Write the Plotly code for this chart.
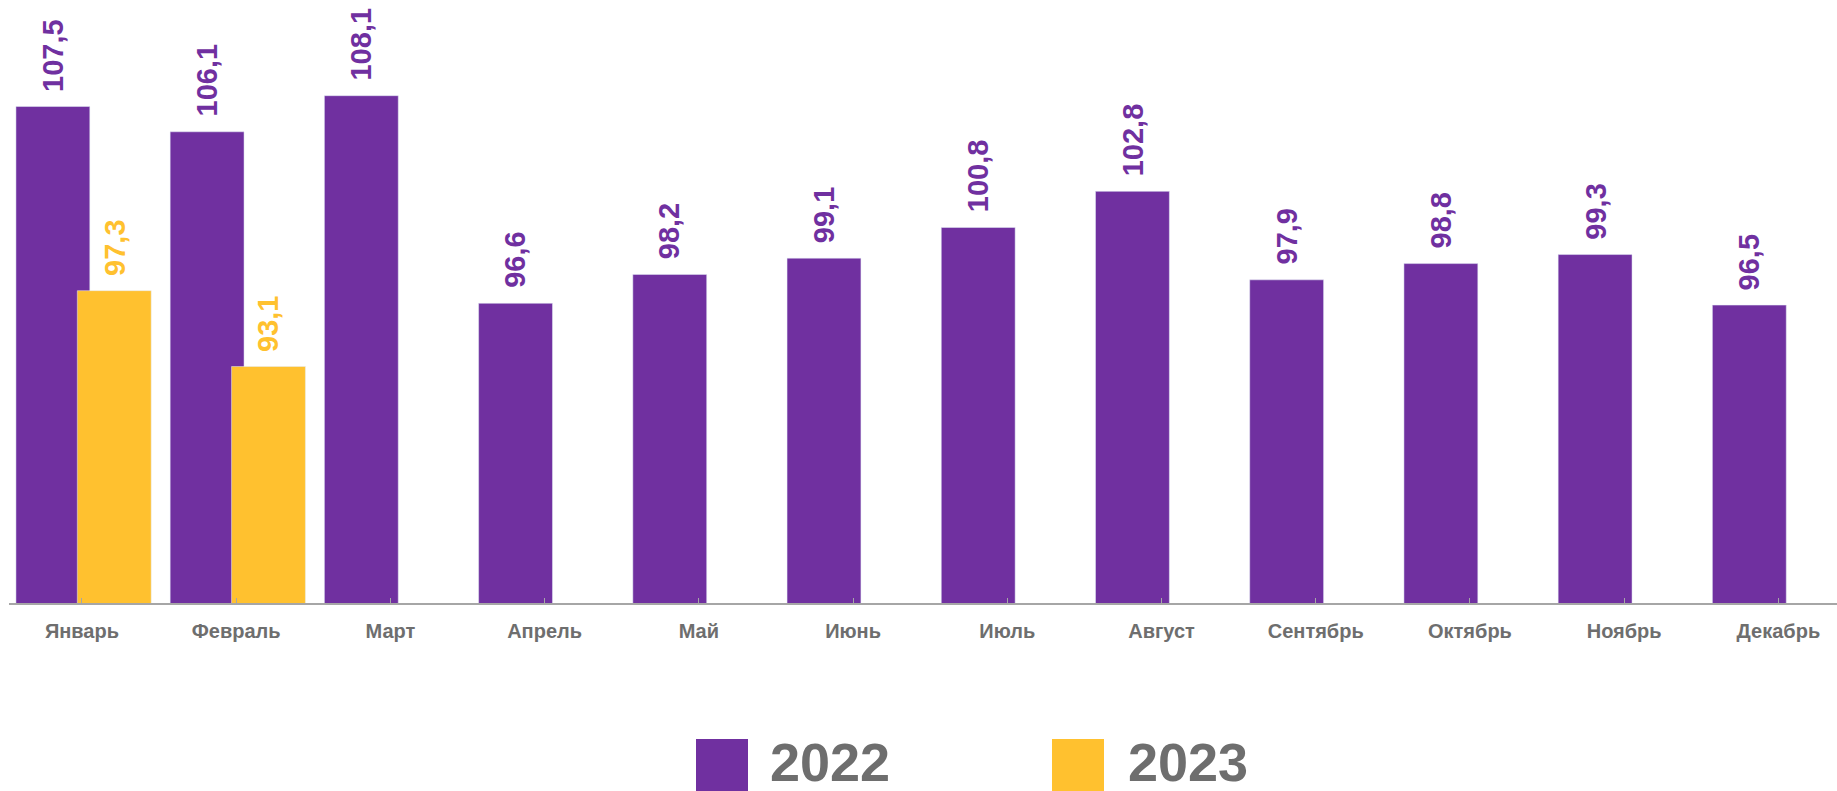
import plotly.graph_objects as go

months = ["Январь", "Февраль", "Март", "Апрель", "Май", "Июнь", "Июль",
          "Август", "Сентябрь", "Октябрь", "Ноябрь", "Декабрь"]
values_2022 = [107.5, 106.1, 108.1, 96.6, 98.2, 99.1, 100.8, 102.8, 97.9, 98.8, 99.3, 96.5]
values_2023 = [97.3, 93.1]
series_names = ["2022", "2023"]

PURPLE = "#7030A0"
YELLOW = "#FFC12F"
GREY = "#6E6E6E"
FONT = "Liberation Sans, Arial, sans-serif"

BAR_W = 0.479
OFF_22 = -0.428
OFF_23 = -0.030

x22 = list(range(len(values_2022)))
x23 = list(range(len(values_2023)))

fig = go.Figure()
fig.add_trace(go.Bar(x=x22, y=values_2022, name=series_names[0], marker_color=PURPLE,
                     width=BAR_W, offset=OFF_22, showlegend=False))
fig.add_trace(go.Bar(x=x23, y=values_2023, name=series_names[1], marker_color=YELLOW,
                     width=BAR_W, offset=OFF_23, showlegend=False))


def fmt(v):
    return f"{v:.1f}".replace(".", ",")


annotations = []
for xi, v in zip(x22, values_2022):
    annotations.append(dict(x=xi + OFF_22 + BAR_W / 2, y=v, xref="x", yref="y",
                            text=f"<b>{fmt(v)}</b>", showarrow=False, textangle=-90,
                            xanchor="center", yanchor="bottom", yshift=13,
                            font=dict(family=FONT, size=29, color=PURPLE)))
for xi, v in zip(x23, values_2023):
    annotations.append(dict(x=xi + OFF_23 + BAR_W / 2, y=v, xref="x", yref="y",
                            text=f"<b>{fmt(v)}</b>", showarrow=False, textangle=-90,
                            xanchor="center", yanchor="bottom", yshift=13,
                            font=dict(family=FONT, size=29, color=YELLOW)))

# manual legend
legend_items = [(series_names[0], PURPLE, 696, 768), (series_names[1], YELLOW, 1052, 1126)]
shapes = []
W, H = 1837, 791
for name, col, sx, tx in legend_items:
    shapes.append(dict(type="rect", xref="paper", yref="paper",
                       x0=(sx - 9) / (W - 9), x1=(sx + 52 - 9) / (W - 9),
                       y0=-(739 - 603) / 603, y1=-(800 - 603) / 603,
                       fillcolor=col, line=dict(width=0)))
    annotations.append(dict(x=(tx - 9) / (W - 9), y=-(762 - 603) / 603, xref="paper", yref="paper",
                            text=f"<b>{name}</b>", showarrow=False, xanchor="left", yanchor="middle",
                            font=dict(family=FONT, size=54, color=GREY)))

fig.update_layout(
    width=W, height=H,
    margin=dict(l=9, r=0, t=0, b=188),
    plot_bgcolor="white", paper_bgcolor="white",
    barmode="overlay",
    annotations=annotations,
    shapes=shapes,
    showlegend=False,
    xaxis=dict(range=[-0.473, 11.38], tickmode="array", tickvals=x22, ticktext=[f"<b>{m}</b>" for m in months],
               showgrid=False, zeroline=False, showline=True, linecolor="#A6A6A6", linewidth=1.5,
               ticks="inside", ticklen=5, tickcolor="#A6A6A6", ticklabelstandoff=9,
               tickfont=dict(family=FONT, size=20, color=GREY)),
    yaxis=dict(range=[80, 113.4], visible=False, showgrid=False, zeroline=False),
)

fig.write_html("out.html", config={"displayModeBar": False},
               post_script="document.body.style.margin='0';document.body.style.overflow='hidden';")
